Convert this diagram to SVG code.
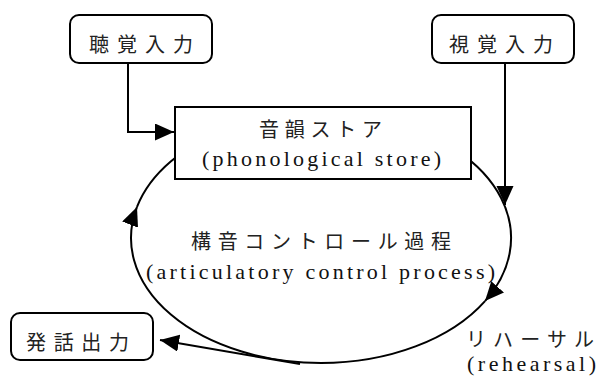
<svg xmlns="http://www.w3.org/2000/svg" width="597" height="378" viewBox="0 0 597 378">
<style>
.box{fill:#fff;stroke:#000;stroke-width:2}
.ln{fill:none;stroke:#000;stroke-width:2}
.jp{font-family:'Noto Sans CJK JP',sans-serif;font-size:20px;fill:#222}
.en{font-family:'Liberation Serif',serif;font-size:22px;fill:#111}
</style>
<defs>
<marker id="ah" markerUnits="userSpaceOnUse" markerWidth="21" markerHeight="18" refX="19" refY="8.5" orient="auto" viewBox="0 0 21 18">
<path d="M0,0 L19,8.5 L0,17 z" fill="#000"/>
</marker>
</defs>
<rect x="0" y="0" width="597" height="378" fill="#fff"/>
<g id="connectors">
<path class="ln" d="M321,363 A190,125 0 0 1 137,206.9" marker-end="url(#ah)"/>
<path class="ln" d="M137,206.9 A190,125 0 1 1 485,301.1" marker-end="url(#ah)"/>
<path class="ln" d="M485,301.1 A190,125 0 0 1 321,363"/>
<path class="ln" d="M128,63 V132 H174" marker-end="url(#ah)"/>
<path class="ln" d="M505,63 V205" marker-end="url(#ah)"/>
<path class="ln" d="M300,364 L160,340" marker-end="url(#ah)"/>
</g>
<g id="phonological-store">
<rect class="box" x="175" y="107" width="296" height="72"/>
<text class="jp" x="259" y="136.5" textLength="123" lengthAdjust="spacing">音韻ストア</text>
<text class="en" x="202" y="166" textLength="239" lengthAdjust="spacing">(phonological store)</text>
</g>
<g id="auditory-input">
<rect class="box" x="70" y="15" width="142" height="48" rx="9"/>
<text class="jp" x="89" y="51.5" textLength="104" lengthAdjust="spacing">聴覚入力</text>
</g>
<g id="visual-input">
<rect class="box" x="432" y="15" width="142" height="48" rx="9"/>
<text class="jp" x="449" y="51.5" textLength="104" lengthAdjust="spacing">視覚入力</text>
</g>
<g id="speech-output">
<rect class="box" x="11" y="313" width="142" height="47" rx="9"/>
<text class="jp" x="26" y="349.5" textLength="103" lengthAdjust="spacing">発話出力</text>
</g>
<g id="articulatory-control">
<text class="jp" x="191" y="248.5" textLength="260" lengthAdjust="spacing">構音コントロール過程</text>
<text class="en" x="146" y="279" textLength="349" lengthAdjust="spacing">(articulatory control process)</text>
</g>
<g id="rehearsal">
<text class="jp" x="466" y="347" textLength="128" lengthAdjust="spacing">リハーサル</text>
<text class="en" x="467" y="371" textLength="129" lengthAdjust="spacing">(rehearsal)</text>
</g>
</svg>
